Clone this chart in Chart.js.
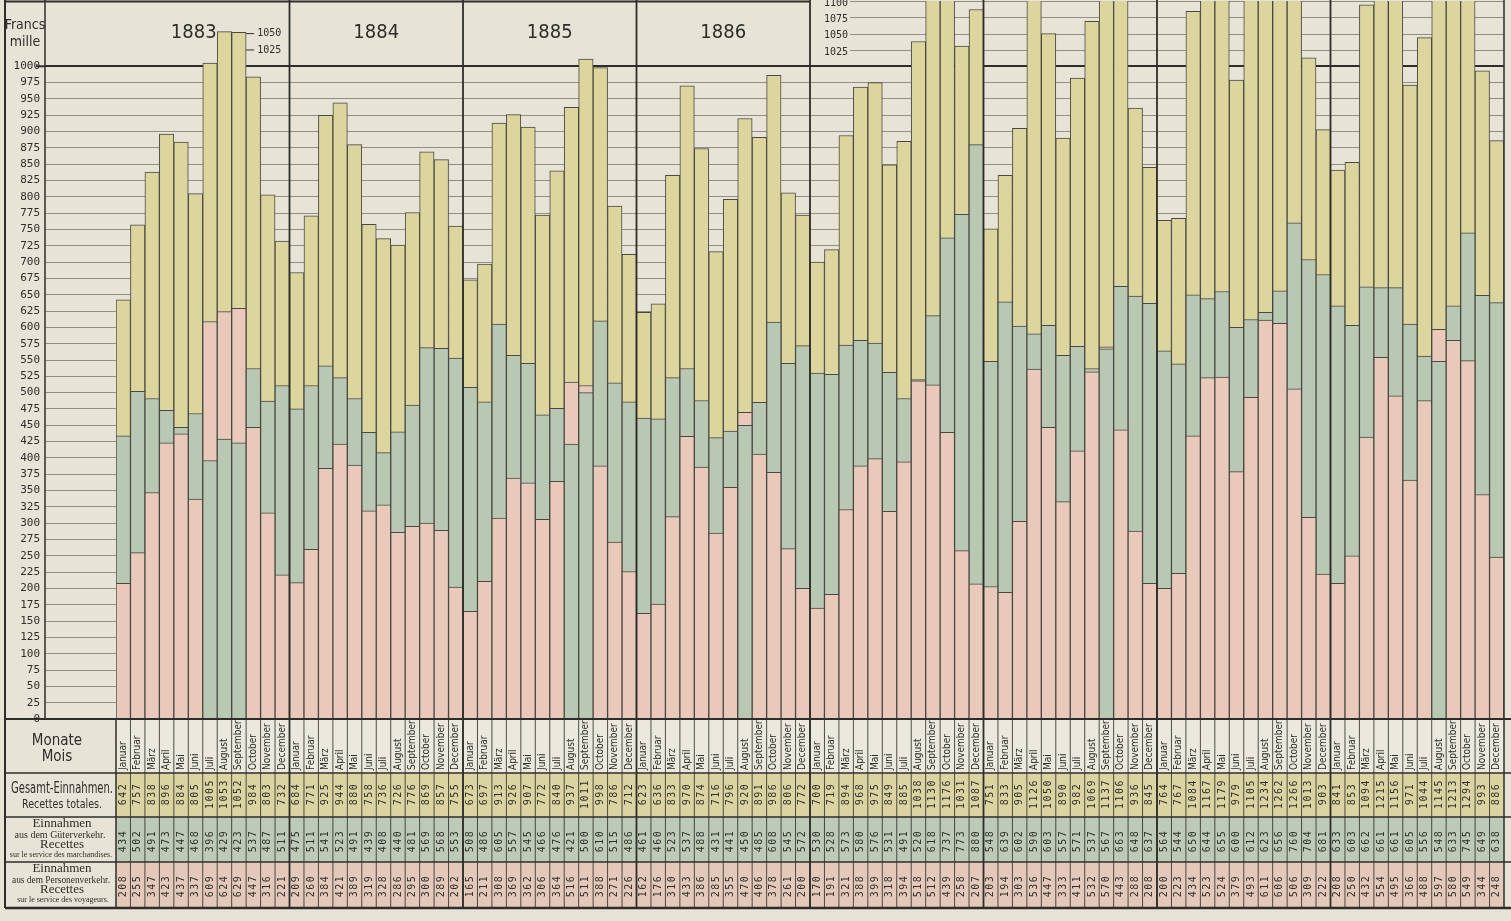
<!DOCTYPE html>
<html>
<head>
<meta charset="utf-8">
<script src="https://cdn.jsdelivr.net/npm/chart.js@4.4.1/dist/chart.umd.min.js"></script>
<style>
  html, body { margin: 0; padding: 0; background: #e7e4d7; overflow: hidden; }
  canvas { display: block; }
</style>
</head>
<body>
<canvas id="receiptsChart" width="1511" height="921"></canvas>
<script>
// monthly receipts, thousand francs
const years = ['1883', '1884', '1885', '1886', '1887', '1888', '1889', '1890'];
const months = ['Januar', 'Februar', 'März', 'April', 'Mai', 'Juni', 'Juli', 'August', 'September', 'October', 'November', 'December'];

const total = [
  642, 757, 838, 896, 884, 805, 1005, 1053, 1052, 984, 803, 732,
  684, 771, 925, 944, 880, 758, 736, 726, 776, 869, 857, 755,
  673, 697, 913, 926, 907, 772, 840, 937, 1011, 998, 786, 712,
  623, 636, 833, 970, 874, 716, 796, 920, 891, 986, 806, 772,
  700, 719, 894, 968, 975, 849, 885, 1038, 1130, 1176, 1031, 1087,
  751, 833, 905, 1126, 1050, 890, 982, 1069, 1137, 1106, 936, 845,
  764, 767, 1084, 1167, 1179, 979, 1105, 1234, 1262, 1266, 1013, 903,
  841, 853, 1094, 1215, 1156, 971, 1044, 1145, 1213, 1294, 993, 886
];
const freight = [
  434, 502, 491, 473, 447, 468, 396, 429, 423, 537, 487, 511,
  475, 511, 541, 523, 491, 439, 408, 440, 481, 569, 568, 553,
  508, 486, 605, 557, 545, 466, 476, 421, 500, 610, 515, 486,
  461, 460, 523, 537, 488, 431, 441, 450, 485, 608, 545, 572,
  530, 528, 573, 580, 576, 531, 491, 520, 618, 737, 773, 880,
  548, 639, 602, 590, 603, 557, 571, 537, 567, 663, 648, 637,
  564, 544, 650, 644, 655, 600, 612, 623, 656, 760, 704, 681,
  633, 603, 662, 661, 661, 605, 556, 548, 633, 745, 649, 638
];
const passenger = [
  208, 255, 347, 423, 437, 337, 609, 624, 629, 447, 316, 221,
  209, 260, 384, 421, 389, 319, 328, 286, 295, 300, 289, 202,
  165, 211, 308, 369, 362, 306, 364, 516, 511, 388, 271, 226,
  162, 176, 310, 433, 386, 285, 355, 470, 406, 378, 261, 200,
  170, 191, 321, 388, 399, 318, 394, 518, 512, 439, 258, 207,
  203, 194, 303, 536, 447, 333, 411, 532, 570, 443, 288, 208,
  200, 223, 434, 523, 524, 379, 493, 611, 606, 506, 309, 222,
  208, 250, 432, 554, 495, 366, 488, 597, 580, 549, 344, 248
];
const upperTicks = [1025, 1050, 1075, 1100];
const boxTicks = [1050, 1025];

const paper = '#e7e4d7';
const yellow = '#dcd59e';
const green = '#b8c8b3';
const pink = '#e8c9ba';
const ink = '#2e2d29';
const lineGrey = 'rgba(60,58,50,0.5)';

const labels = [];
years.forEach(y => months.forEach(m => labels.push(m + ' ' + y)));

// freight and passenger bars overlap from zero: the bigger one goes behind
const upper = freight.map((f, i) => Math.max(f, passenger[i]));
const lower = freight.map((f, i) => Math.min(f, passenger[i]));
const upperColor = freight.map((f, i) => f >= passenger[i] ? green : pink);
const lowerColor = freight.map((f, i) => f >= passenger[i] ? pink : green);

// table rows below the plot
const rowY = [719, 773, 817, 862, 908];
const narrow = '"Liberation Sans Narrow", "DejaVu Sans Condensed", "Liberation Sans", sans-serif';
const serif = '"Liberation Serif", "DejaVu Serif", serif';
const mono = '"DejaVu Sans Mono", "Liberation Mono", monospace';

function line(c, x1, y1, x2, y2, w, color) {
    c.beginPath();
    c.lineWidth = w;
    c.strokeStyle = color || ink;
    c.moveTo(x1, y1);
    c.lineTo(x2, y2);
    c.stroke();
}

function text(c, str, x, y, font, align, maxW) {
    c.font = font;
    c.textAlign = align || 'center';
    c.textBaseline = 'middle';
    c.fillStyle = ink;
    if (maxW) c.fillText(str, x, y, maxW); else c.fillText(str, x, y);
}

function vtext(c, str, x, y, font, align, spacing) {
    c.save();
    c.translate(x, y);
    c.rotate(-Math.PI / 2);
    c.font = font;
    c.letterSpacing = spacing || '0px';
    c.textAlign = align;
    c.textBaseline = 'middle';
    c.fillStyle = ink;
    c.fillText(str, 0, 0);
    c.restore();
}

const sheet = {
    id: 'sheet',
    beforeDraw(chart) {
        const c = chart.ctx, a = chart.chartArea;
        c.save();
        c.fillStyle = paper;
        c.fillRect(0, 0, chart.width, chart.height);
        const fills = ['#ebe9dd', '#dbd4a2', '#bccab7', '#e4c9bb'];
        fills.forEach((f, r) => {
            c.fillStyle = f;
            c.fillRect(a.left, rowY[r], a.right - a.left, rowY[r + 1] - rowY[r]);
        });
        c.restore();
    },
    beforeDatasetsDraw(chart) {
        const c = chart.ctx, a = chart.chartArea, ys = chart.scales.y;
        c.save();
        // the scale above 1000 only runs from 1887 onwards
        upperTicks.forEach(v => {
            const y = Math.round(ys.getPixelForValue(v)) + 0.5;
            line(c, 850, y, a.right, y, 1, lineGrey);
        });
        c.restore();
    },
    afterDraw(chart) {
        const c = chart.ctx, a = chart.chartArea, xs = chart.scales.x, ys = chart.scales.y;
        const w = (a.right - a.left) / labels.length;
        const edge = i => a.left + i * w;
        c.save();

        // table column lines
        for (let i = 1; i < labels.length; i++) {
            line(c, edge(i), rowY[0], edge(i), rowY[4], 1, 'rgba(40,40,35,0.8)');
        }
        // table rows
        line(c, 5, rowY[0], chart.width, rowY[0], 2);
        [1, 2, 3].forEach(r => line(c, 5, rowY[r], chart.width, rowY[r], 1.5));
        line(c, 5, rowY[4], chart.width, rowY[4], 2.5);

        // frame
        line(c, 5, 0, 5, rowY[4], 2);
        line(c, 45, 0, 45, rowY[0], 1.5);
        line(c, a.left, rowY[0], a.left, rowY[4], 1.5);
        line(c, a.right, 0, a.right, rowY[4], 1.5);
        for (let k = 1; k < years.length; k++) {
            line(c, edge(12 * k), 0, edge(12 * k), rowY[4], 1.8);
        }
        line(c, 5, 1.5, edge(48), 1.5, 2);
        const y1000 = ys.getPixelForValue(1000);
        line(c, 36, y1000, 45, y1000, 2);

        // heading
        text(c, 'Francs', 25, 25, '14px ' + narrow);
        text(c, 'mille', 25, 42, '14px ' + narrow);
        years.slice(0, 4).forEach((yr, k) => {
            const cx = (edge(12 * k) + edge(12 * k + 12)) / 2 - (k === 0 ? 9 : 0);
            text(c, yr, cx, 33, '500 20px ' + narrow);
        });
        boxTicks.forEach(v => {
            const y = ys.getPixelForValue(v);
            line(c, edge(9), y, edge(9) + 8, y, 1);
            text(c, String(v), edge(9) + 11, y, '10px ' + mono, 'left');
        });
        upperTicks.forEach(v => {
            text(c, String(v), 848, ys.getPixelForValue(v) + 2, '10px ' + mono, 'right');
        });

        // row captions
        text(c, 'Monate', 57, 741, '15px ' + narrow);
        text(c, 'Mois', 57, 757, '15px ' + narrow);
        text(c, 'Gesamt-Einnahmen.', 62, 789, '15px ' + narrow, 'center', 102);
        text(c, 'Recettes totales.', 62, 805, '13px ' + narrow, 'center', 80);
        text(c, 'Einnahmen', 62, 824, '13px ' + serif);
        text(c, 'aus dem Güterverkehr.', 60, 835, '10px ' + serif, 'center', 96);
        text(c, 'Recettes', 62, 845, '13px ' + serif);
        text(c, 'sur le service des marchandises.', 61, 855, '8px ' + serif, 'center', 106);
        text(c, 'Einnahmen', 62, 869, '13px ' + serif);
        text(c, 'aus dem Personenverkehr.', 61, 880, '10px ' + serif, 'center', 98);
        text(c, 'Recettes', 62, 890, '13px ' + serif);
        text(c, 'sur le service des voyageurs.', 63, 900, '8px ' + serif, 'center', 102);

        // month names and values
        labels.forEach((_, i) => {
            const cx = xs.getPixelForValue(i);
            vtext(c, months[i % 12], cx, 770, '10px ' + narrow, 'left');
            vtext(c, String(total[i]), cx, 794, '10px ' + mono, 'center', '1.5px');
            vtext(c, String(freight[i]), cx, 841, '10px ' + mono, 'center', '1.5px');
            vtext(c, String(passenger[i]), cx, 886, '10px ' + mono, 'center', '1.5px');
        });
        c.restore();
    }
};

const ctx = document.getElementById('receiptsChart').getContext('2d');
new Chart(ctx, {
    type: 'bar',
    data: {
        labels: labels,
        datasets: [
            { label: 'kleinerer Verkehr', data: lower, backgroundColor: lowerColor, order: 1 },
            { label: 'grösserer Verkehr', data: upper, backgroundColor: upperColor, order: 2 },
            { label: 'Gesamt-Einnahmen', data: total, backgroundColor: yellow, order: 3 }
        ]
    },
    options: {
        responsive: false,
        animation: false,
        layout: { padding: { left: 0, right: 7, top: 1, bottom: 202 } },
        datasets: {
            bar: {
                grouped: false,
                barPercentage: 1,
                categoryPercentage: 1,
                borderWidth: 1,
                borderColor: '#4a4842',
                borderSkipped: 'bottom'
            }
        },
        plugins: {
            legend: { display: false },
            tooltip: { enabled: false }
        },
        scales: {
            x: { display: false },
            y: {
                min: 0,
                max: 1100,
                z: 1,
                afterFit: (s) => { s.width = 116; s.paddingTop = 0; s.paddingBottom = 0; },
                border: { display: false },
                ticks: {
                    stepSize: 25,
                    autoSkip: false,
                    padding: 5,
                    color: ink,
                    font: { family: 'DejaVu Sans Mono', size: 11 },
                    callback: (v) => v <= 1000 ? String(v) : null
                },
                grid: {
                    color: (c) => c.tick && c.tick.value === 1000 ? ink : lineGrey,
                    lineWidth: (c) => c.tick && c.tick.value === 1000 ? 2 : 1,
                    drawTicks: true,
                    tickLength: 71
                }
            }
        }
    },
    plugins: [sheet]
});
</script>
</body>
</html>
